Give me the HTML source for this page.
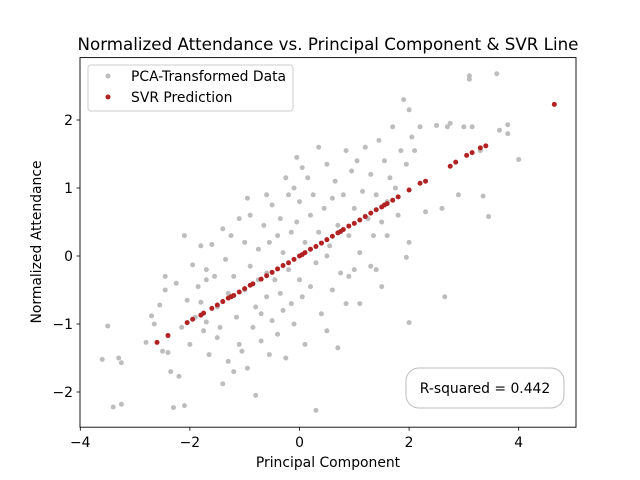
<!DOCTYPE html>
<html><head><meta charset="utf-8"><style>
body{margin:0;background:#fff}
svg{display:block;font-family:"DejaVu Sans","Liberation Sans",sans-serif}
</style></head><body>
<svg id="chart" width="640" height="480" viewBox="0 0 640 480" xmlns="http://www.w3.org/2000/svg">
<rect width="640" height="480" fill="#fff"/>
<text x="328" y="50" text-anchor="middle" font-size="16.7">Normalized Attendance vs. Principal Component &amp; SVR Line</text>
<g id="pts"></g>
<rect x="80" y="57.6" width="496" height="369.6" fill="none" stroke="#000" stroke-width="0.9"/>
<g id="ticks"></g>
<text x="328" y="467" text-anchor="middle" font-size="13.9">Principal Component</text>
<text transform="translate(41,242) rotate(-90)" text-anchor="middle" font-size="13.9">Normalized Attendance</text>
<g>
<rect x="88" y="65" width="205" height="46" rx="3" fill="#fff" fill-opacity="0.8" stroke="#ccc"/>
<circle cx="108" cy="76" r="2.5" fill="#bdbdbd"/>
<text x="131" y="81" font-size="13.9">PCA-Transformed Data</text>
<circle cx="108" cy="97" r="2.5" fill="#b22222"/>
<text x="131" y="102" font-size="13.9">SVR Prediction</text>
</g>
<g>
<rect x="406" y="368" width="158" height="40" rx="13" fill="#fff" stroke="#bbb"/>
<text x="485" y="393" text-anchor="middle" font-size="13.9">R-squared = 0.442</text>
</g>
</svg>
<script>
const dataX=[-3.6,-3.5,-3.4,-3.3,-3.25,-3.25,-2.8,-2.7,-2.65,-2.55,-2.5,-2.45,-2.45,-2.4,-2.35,-2.3,-2.25,-2.2,-2.15,-2.1,-2.1,-2.05,-2.0,-1.95,-1.9,-1.85,-1.8,-1.8,-1.75,-1.7,-1.7,-1.65,-1.6,-1.55,-1.5,-1.5,-1.45,-1.4,-1.4,-1.35,-1.3,-1.3,-1.25,-1.2,-1.2,-1.15,-1.1,-1.1,-1.05,-1.0,-1.0,-0.95,-0.95,-0.9,-0.9,-0.85,-0.8,-0.8,-0.75,-0.75,-0.7,-0.7,-0.65,-0.6,-0.6,-0.55,-0.55,-0.5,-0.5,-0.45,-0.4,-0.4,-0.35,-0.35,-0.3,-0.3,-0.25,-0.25,-0.2,-0.2,-0.15,-0.15,-0.1,-0.1,-0.05,-0.05,0,0,0.05,0.05,0.1,0.1,0.15,0.2,0.2,0.25,0.3,0.3,0.35,0.35,0.4,0.45,0.5,0.5,0.55,0.6,0.6,0.65,0.7,0.7,0.75,0.8,0.85,0.85,0.9,0.95,1.0,1.0,1.05,1.1,1.1,1.15,1.2,1.25,1.3,1.3,1.35,1.4,1.45,1.5,1.5,1.55,1.6,1.65,1.7,1.75,1.8,1.85,1.9,1.95,2.0,2.0,2.0,2.05,2.1,2.2,2.3,2.5,2.6,2.65,2.7,2.75,2.9,3.0,3.1,3.1,3.15,3.3,3.35,3.45,3.6,3.65,3.8,3.8,4.0,-1.7,1.6,0.5,-0.6,0.9,1.95,1.4];
const dataY=[-1.52,-1.03,-2.22,-1.5,-1.57,-2.18,-1.27,-0.88,-1.0,-0.72,-1.4,-0.3,-0.5,-1.42,-1.7,-2.23,-0.4,-1.77,-1.05,-2.2,0.3,-0.65,-1.3,-0.13,-0.9,-0.45,-0.68,0.15,-1.1,-0.97,-0.2,-1.45,0.17,-0.3,-0.75,-1.2,-1.05,-1.88,0.4,-0.05,-0.55,-1.55,0.3,-0.3,-1.7,-0.9,0.55,-1.3,-1.4,0.2,-0.5,0.85,-1.65,-0.15,0.6,-1.05,-0.75,-2.05,0.1,-0.35,-0.85,-1.25,0.45,-0.25,-0.6,0.2,-1.45,-0.95,0.75,-0.35,0.3,-1.15,-0.55,0.55,0.05,-0.8,1.15,-1.5,0.9,-0.2,0.35,-0.7,1.0,-1.0,1.45,0.5,-0.35,0.8,1.3,-0.6,0.2,-1.3,1.15,-0.45,0.6,0.9,-2.27,-0.1,1.6,0.35,-0.85,0.7,-1.1,1.35,0.15,0.85,-0.5,1.1,0.45,-1.35,-0.25,0.9,1.55,-0.7,0.3,1.25,-0.2,0.7,1.4,0.05,-0.7,0.95,1.6,0.55,-0.15,1.2,0.3,0.9,1.7,-0.45,0.5,1.4,0.8,1.15,1.9,1.0,0.6,1.55,2.3,1.35,-0.98,0.2,2.15,1.75,1.55,1.9,0.65,1.92,0.7,-0.6,1.9,1.95,0.9,1.9,2.65,2.6,1.9,1.55,0.88,0.58,2.68,1.85,1.93,1.8,1.42,-0.35,0.3,0.0,0.9,-0.3,-0.02,-0.2];
const svrX=[-2.6,-2.4,-2.05,-1.95,-1.8,-1.75,-1.6,-1.5,-1.4,-1.3,-1.25,-1.2,-1.1,-1.0,-0.9,-0.85,-0.7,-0.6,-0.5,-0.4,-0.3,-0.2,-0.1,0,0.05,0.1,0.2,0.3,0.4,0.5,0.6,0.7,0.75,0.8,0.9,1.0,1.1,1.2,1.3,1.4,1.5,1.55,1.6,1.7,1.8,2.0,2.2,2.3,2.75,2.85,3.05,3.15,3.3,3.4,4.65];
const svrY=[-1.27,-1.17,-0.98,-0.93,-0.87,-0.84,-0.77,-0.72,-0.67,-0.62,-0.6,-0.58,-0.53,-0.48,-0.43,-0.41,-0.34,-0.29,-0.24,-0.19,-0.14,-0.1,-0.05,0,0.02,0.05,0.1,0.14,0.19,0.24,0.29,0.34,0.36,0.39,0.44,0.48,0.53,0.58,0.63,0.68,0.72,0.75,0.77,0.82,0.87,0.97,1.07,1.1,1.32,1.38,1.48,1.52,1.59,1.62,2.23];
const xTicks=[-4,-2,0,2,4];
const yTicks=[-2,-1,0,1,2];
const NS="http://www.w3.org/2000/svg";
const sx=v=>299.5+v*54.8;
const sy=v=>256-v*68;
const pts=document.getElementById('pts'),tk=document.getElementById('ticks');
function mk(t,a,p){const e=document.createElementNS(NS,t);for(const k in a)e.setAttribute(k,a[k]);p.appendChild(e);return e;}
dataX.forEach((x,i)=>{
 const c=mk('circle',{cx:sx(x),cy:sy(dataY[i]),r:2.5,fill:'#bdbdbd'},pts);
 
 
});
svrX.forEach((x,i)=>{
 const c=mk('circle',{cx:sx(x),cy:sy(svrY[i]),r:2.5,fill:'#b22222'},pts);
 
 
});
xTicks.forEach(v=>{
 const X=sx(v);
 mk('line',{x1:X,x2:X,y1:427.2,y2:430.7,stroke:'#000','stroke-width':0.8},tk);
 const t=mk('text',{x:X,y:447,'text-anchor':'middle','font-size':13.9},tk);
 t.textContent=v<0?'\u2212'+(-v):String(v);
 
 
});
yTicks.forEach(v=>{
 const Y=sy(v);
 mk('line',{x1:76.5,x2:80,y1:Y,y2:Y,stroke:'#000','stroke-width':0.8},tk);
 const t=mk('text',{x:73,y:Y+5,'text-anchor':'end','font-size':13.9},tk);
 t.textContent=v<0?'\u2212'+(-v):String(v);
 
 
});
</script>
</body></html>
